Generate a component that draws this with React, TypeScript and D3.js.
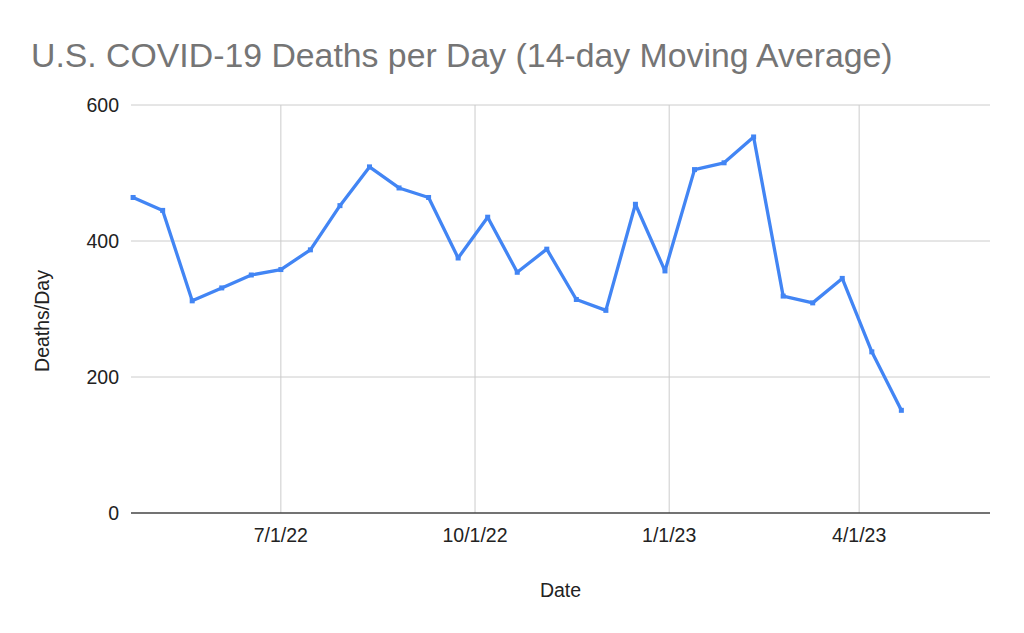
import React from "react";
import * as d3 from "d3";

const dates: string[] = [
  "2022-04-22", "2022-05-06", "2022-05-20", "2022-06-03", "2022-06-17", "2022-07-01",
  "2022-07-15", "2022-07-29", "2022-08-12", "2022-08-26", "2022-09-09", "2022-09-23",
  "2022-10-07", "2022-10-21", "2022-11-04", "2022-11-18", "2022-12-02", "2022-12-16",
  "2022-12-30", "2023-01-13", "2023-01-27", "2023-02-10", "2023-02-24", "2023-03-10",
  "2023-03-24", "2023-04-07", "2023-04-21",
];
const deaths: number[] = [
  464, 445, 312, 331, 350, 358, 387, 452, 509, 478, 464, 375, 435, 354, 388, 314,
  298, 454, 356, 505, 515, 553, 319, 309, 345, 237, 151,
];
const xTicks: string[] = ["2022-07-01", "2022-10-01", "2023-01-01", "2023-04-01"];
const xTickLabels: string[] = ["7/1/22", "10/1/22", "1/1/23", "4/1/23"];
const yTicks: number[] = [0, 200, 400, 600];
const xDomain: string[] = ["2022-04-21", "2023-06-02"];

const W = 1024;
const H = 633;
const left = 131;
const right = 990;
const top = 105;
const bottom = 513;

const parse = d3.utcParse("%Y-%m-%d");

export default function App() {
  const x = d3
    .scaleUtc()
    .domain([parse(xDomain[0])!, parse(xDomain[1])!])
    .range([left, right]);
  const y = d3.scaleLinear().domain([0, 600]).range([bottom, top]);
  const pts = dates.map((d, i) => [x(parse(d)!), y(deaths[i])] as [number, number]);
  const line = d3.line()(pts) || "";
  const font = "Arial, 'Liberation Sans', sans-serif";
  return (
    <svg
      width={W}
      height={H}
      style={{ position: "absolute", left: 0, top: 0, background: "#fff" }}
      fontFamily={font}
    >
      <rect width={W} height={H} fill="#fff" />
      <text x={31} y={67} fontSize={33.8} fill="#757575">
        U.S. COVID-19 Deaths per Day (14-day Moving Average)
      </text>
      {yTicks.map((t) => (
        <g key={t}>
          {t !== 0 && (
            <line x1={left} x2={right} y1={y(t)} y2={y(t)} stroke="#cccccc" strokeWidth={1} />
          )}
          <text x={119} y={y(t) + 7} fontSize={19.5} fill="#222" textAnchor="end">
            {t}
          </text>
        </g>
      ))}
      {xTicks.map((t, i) => {
        const xx = x(parse(t)!);
        return (
          <g key={t}>
            <line x1={xx} x2={xx} y1={top} y2={bottom} stroke="#cccccc" strokeWidth={1} />
            <text x={xx} y={542} fontSize={19.5} fill="#222" textAnchor="middle">
              {xTickLabels[i]}
            </text>
          </g>
        );
      })}
      <line x1={left} x2={right} y1={bottom} y2={bottom} stroke="#444" strokeWidth={1.4} />
      <path d={line} fill="none" stroke="#4285F4" strokeWidth={3.3} strokeLinejoin="round" />
      {pts.map((p, i) => (
        <rect key={i} x={p[0] - 2.5} y={p[1] - 2.5} width={5} height={5} fill="#4285F4" />
      ))}
      <text x={(left + right) / 2} y={597} fontSize={19.5} fill="#222" textAnchor="middle">
        Date
      </text>
      <text
        transform={`translate(49, 321) rotate(-90)`}
        fontSize={19.5}
        fill="#222"
        textAnchor="middle"
      >
        Deaths/Day
      </text>
    </svg>
  );
}
